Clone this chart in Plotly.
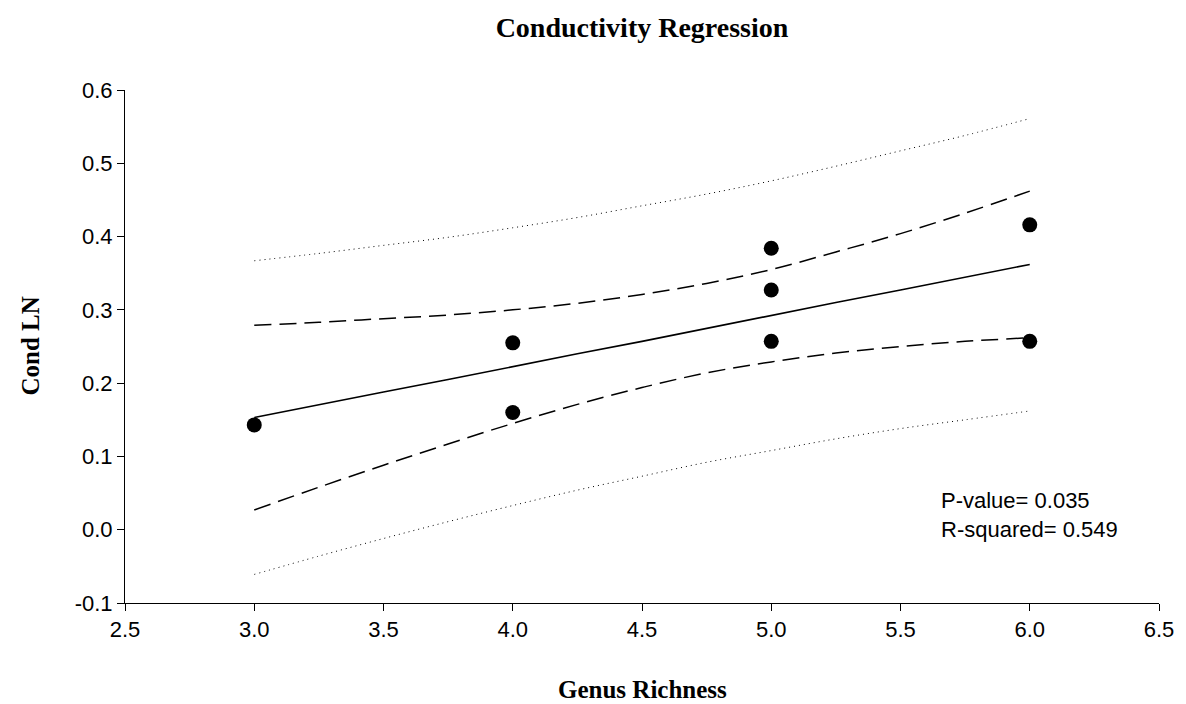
import plotly.graph_objects as go

# Observed data points
genus_richness = [3, 4, 4, 5, 5, 5, 6, 6]
cond_ln = [0.143, 0.255, 0.160, 0.384, 0.327, 0.257, 0.416, 0.257]

# Regression line and band values read along x
band_x = [3.0, 3.25, 3.5, 3.75, 4.0, 4.25, 4.5, 4.75, 5.0, 5.25, 5.5, 5.75, 6.0]
fit_y = [0.153, 0.171, 0.188, 0.205, 0.223, 0.240, 0.257, 0.275, 0.292, 0.310, 0.327, 0.344, 0.362]
ci_upper = [0.279, 0.283, 0.288, 0.293, 0.300, 0.309, 0.321, 0.336, 0.355, 0.379, 0.404, 0.432, 0.462]
ci_lower = [0.027, 0.058, 0.088, 0.117, 0.145, 0.171, 0.194, 0.214, 0.229, 0.241, 0.250, 0.257, 0.262]
pi_upper = [0.367, 0.377, 0.388, 0.399, 0.412, 0.426, 0.442, 0.458, 0.476, 0.496, 0.517, 0.538, 0.561]
pi_lower = [-0.061, -0.036, -0.012, 0.011, 0.033, 0.054, 0.073, 0.092, 0.108, 0.124, 0.138, 0.150, 0.162]

x_ticks = [2.5, 3.0, 3.5, 4.0, 4.5, 5.0, 5.5, 6.0, 6.5]
y_ticks = [-0.1, 0.0, 0.1, 0.2, 0.3, 0.4, 0.5, 0.6]

stats_text = ["P-value= 0.035", "R-squared= 0.549"]

SANS = "Liberation Sans, Arial, sans-serif"
SERIF = "Liberation Serif, Times New Roman, serif"

fig = go.Figure()

for yy in (pi_upper, pi_lower):
    fig.add_trace(go.Scatter(x=band_x, y=yy, mode="lines", line_shape="spline",
                             line=dict(color="black", width=1, dash="1px,4px"),
                             showlegend=False, hoverinfo="skip"))
for yy in (ci_upper, ci_lower):
    fig.add_trace(go.Scatter(x=band_x, y=yy, mode="lines", line_shape="spline",
                             line=dict(color="black", width=1.5, dash="17px,8px"),
                             showlegend=False, hoverinfo="skip"))
fig.add_trace(go.Scatter(x=band_x, y=fit_y, mode="lines",
                         line=dict(color="black", width=1.6),
                         showlegend=False))
fig.add_trace(go.Scatter(x=genus_richness, y=cond_ln, mode="markers",
                         marker=dict(color="black", size=15),
                         showlegend=False))

fig.add_annotation(x=5.65, y=0.020, xref="x", yref="y", text="<br>".join(stats_text),
                   showarrow=False, xanchor="left", yanchor="middle", align="left",
                   font=dict(family=SANS, size=22, color="black"))

# Axis titles
fig.add_annotation(x=0.5, y=0, xref="paper", yref="paper", text="<b>Genus Richness</b>",
                   showarrow=False, xanchor="center", yanchor="middle", yshift=-86,
                   font=dict(family=SERIF, size=25, color="black"))
fig.add_annotation(x=0, y=0.5, xref="paper", yref="paper", text="<b>Cond LN</b>",
                   showarrow=False, xanchor="center", yanchor="middle", xshift=-95,
                   textangle=-90,
                   font=dict(family=SERIF, size=25, color="black"))

fig.update_layout(
    width=1178, height=696,
    margin=dict(l=117, r=21, t=82, b=101),
    plot_bgcolor="white", paper_bgcolor="white",
    title=dict(text="<b>Conductivity Regression</b>", x=0.5, xref="paper", xanchor="center",
               y=0.973, yanchor="middle",
               font=dict(family=SERIF, size=28, color="black")),
    xaxis=dict(range=[2.5, 6.5], tickvals=x_ticks, ticktext=[f"{v:.1f}" for v in x_ticks],
               showgrid=False, zeroline=False, showline=True, linecolor="black", linewidth=1,
               ticks="outside", ticklen=7, tickcolor="black",
               tickfont=dict(family=SANS, size=22, color="black")),
    yaxis=dict(range=[-0.1, 0.6], tickvals=y_ticks, ticktext=[f"{v:.1f}" for v in y_ticks],
               showgrid=False, zeroline=False, showline=True, linecolor="black", linewidth=1,
               ticks="outside", ticklen=7, tickcolor="black",
               tickfont=dict(family=SANS, size=22, color="black")),
)

fig.write_html("out.html")
